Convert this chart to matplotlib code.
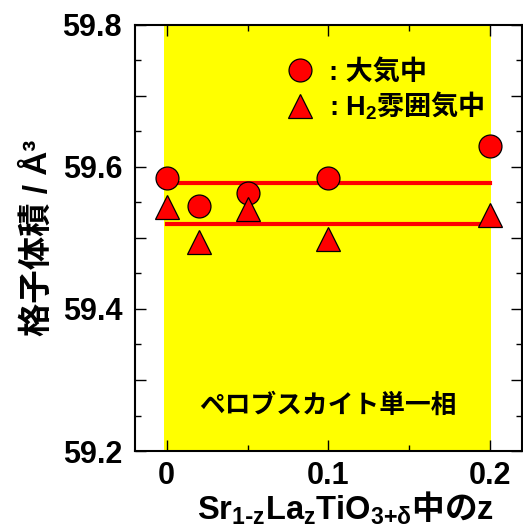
import matplotlib
matplotlib.use('Agg')
import matplotlib.pyplot as plt
from matplotlib.ticker import MultipleLocator

plt.rcParams['mathtext.fontset'] = 'custom'
plt.rcParams['mathtext.default'] = 'bf'
plt.rcParams['mathtext.bf'] = 'Liberation Sans:bold'
plt.rcParams['mathtext.rm'] = 'Noto Sans CJK JP:bold'

LATIN = ['Liberation Sans', 'Noto Sans CJK JP']
CJK = ['Noto Sans CJK JP', 'Liberation Sans']

# lattice volume vs La content z
z_air = [0.0, 0.02, 0.05, 0.1, 0.2]
vol_air = [59.585, 59.545, 59.564, 59.585, 59.630]
z_h2 = [0.0, 0.02, 0.05, 0.1, 0.2]
vol_h2 = [59.543, 59.495, 59.541, 59.498, 59.532]

# average levels for each atmosphere
avg_z = [0.0, 0.2]
avg_air = 59.578
avg_h2 = 59.520

# single perovskite phase region
phase_range = [0.0, 0.2]

fig = plt.figure(figsize=(5.23, 5.27), dpi=100)
ax = fig.add_axes([0.2575, 0.1442, 0.74, 0.8084])

ax.axvspan(phase_range[0] - 0.0017, phase_range[1] + 0.0007, color='#ffff00', zorder=0, lw=0)

ax.plot(avg_z, [avg_air, avg_air], color='#ff0000', lw=3, zorder=2)
ax.plot(avg_z, [avg_h2, avg_h2], color='#ff0000', lw=3, zorder=2)

ax.plot(z_air, vol_air, 'o', ms=16.5, mfc='#ff0000', mec='black', mew=0.9,
        zorder=3, label=': 大気中')
ax.plot(z_h2, vol_h2, '^', ms=17, mfc='#ff0000', mec='black', mew=0.9,
        zorder=3, label=r': H$_2$$\mathrm{雰囲気中}$')

ax.set_xlim(-0.0198, 0.2195)
ax.set_ylim(59.2, 59.8)

ax.xaxis.set_minor_locator(MultipleLocator(0.05))
ax.yaxis.set_minor_locator(MultipleLocator(0.05))
ax.set_xticks([0, 0.1, 0.2])
ax.set_xticklabels(['0', '0.1', '0.2'])
ax.set_yticks([59.2, 59.3, 59.4, 59.5, 59.6, 59.7, 59.8])
ax.set_yticklabels(['59.2', '', '59.4', '', '59.6', '', '59.8'])

ax.tick_params(which='both', direction='in', top=True, right=True, width=1)
ax.tick_params(which='major', length=8)
ax.tick_params(which='minor', length=4)
ax.tick_params(axis='y', pad=9)
ax.tick_params(axis='x', pad=7)
for lab in ax.get_xticklabels() + ax.get_yticklabels():
    lab.set_fontfamily('Liberation Sans')
    lab.set_fontweight('bold')
    lab.set_fontsize(22)

for sp in ax.spines.values():
    sp.set_linewidth(1.5)

ax.set_ylabel('格子体積 / Å³', family=LATIN, fontweight='bold', fontsize=24, labelpad=6)
ax.set_xlabel(r'Sr$_{1\text{-}z}$La$_{z}$TiO$_{3\text{+}\delta}\mathrm{中の}$z',
              family='Liberation Sans', fontweight='bold', fontsize=23.5)
ax.xaxis.label.set_va('baseline')
ax.xaxis.set_label_coords(0.5455, -0.162)

ax.text(0.5, 0.108, 'ペロブスカイト単一相', transform=ax.transAxes, ha='center', va='center',
        family=CJK, fontweight='bold', fontsize=18.5)

ax.legend(loc='upper left', bbox_to_anchor=(0.365, 0.945), frameon=False,
          prop={'family': LATIN, 'weight': 'bold', 'size': 19.5},
          handlelength=1.0, handletextpad=0.55, labelspacing=0.15, borderaxespad=0)

fig.savefig('out.png', dpi=100)
